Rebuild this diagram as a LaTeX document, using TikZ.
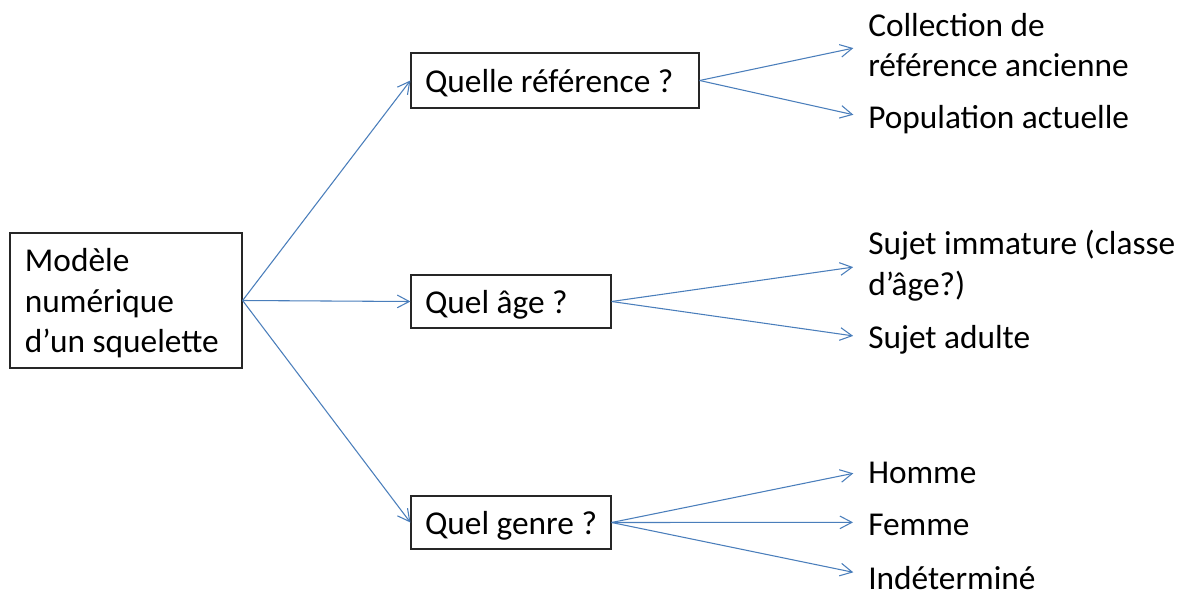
\documentclass[tikz,border=0pt]{standalone}
\usepackage{fontspec}
\setmainfont{Carlito}
\usetikzlibrary{arrows.meta}
\definecolor{lineblue}{HTML}{4A7EBB}
\begin{document}
\begin{tikzpicture}[x=0.75pt,y=-0.75pt,
  box/.style={draw=black!85,line width=0.9pt,inner xsep=0pt,inner ysep=0pt,align=flush left,
    font=\fontsize{25}{30.5}\selectfont,text depth=0pt},
  leaf/.style={anchor=west,inner sep=0pt,align=flush left,font=\fontsize{25}{30.5}\selectfont},
  conn/.style={draw=lineblue,line width=0.8pt,-{Straight Barb[length=9pt,width=9.5pt]}}]
\useasboundingbox (0,0) rectangle (1186,596);
\node[box,text depth=61pt,minimum width=174pt,minimum height=101.25pt,text width=151.5pt] (m) at (126,300.5)
  {Modèle\\numérique\\d’un squelette};
\node[box,minimum width=216pt,minimum height=41.25pt,text width=195pt] (q1) at (555,80.5) {Quelle référence ?};
\node[box,minimum width=150pt,minimum height=39.75pt,text width=129pt] (q2) at (511,301.5) {Quel âge ?};
\node[box,minimum width=150pt,minimum height=39.75pt,text width=129pt] (q3) at (511,522.5) {Quel genre ?};
\node[leaf] (r1) at (868,45) {Collection de\\référence ancienne};
\node[leaf] (r2) at (868,120) {Population actuelle};
\node[leaf] (a1) at (868,266) {Sujet immature (classe\\d’âge?)};
\node[leaf] (a2) at (868,340) {Sujet adulte};
\node[leaf] (g1) at (868,473) {Homme};
\node[leaf] (g2) at (868,525) {Femme};
\node[leaf] (g3) at (868,578) {Indéterminé};
\draw[conn] (m.east) -- (q1.west);
\draw[conn] (m.east) -- (q2.west);
\draw[conn] (m.east) -- (q3.west);
\draw[conn,shorten >=11.25pt] (q1.east) -- (r1.west);
\draw[conn,shorten >=11.25pt] (q1.east) -- ([yshift=1.5pt]r2.west);
\draw[conn,shorten >=11.25pt] (q2.east) -- ([yshift=0.75pt]a1.west);
\draw[conn,shorten >=11.25pt] (q2.east) -- ([yshift=1.5pt]a2.west);
\draw[conn,shorten >=11.25pt] (q3.east) -- ([yshift=2pt]g1.west);
\draw[conn,shorten >=11.25pt] (q3.east) -- ([yshift=2pt]g2.west);
\draw[conn,shorten >=11.25pt] (q3.east) -- ([yshift=2pt]g3.west);
\end{tikzpicture}
\end{document}
